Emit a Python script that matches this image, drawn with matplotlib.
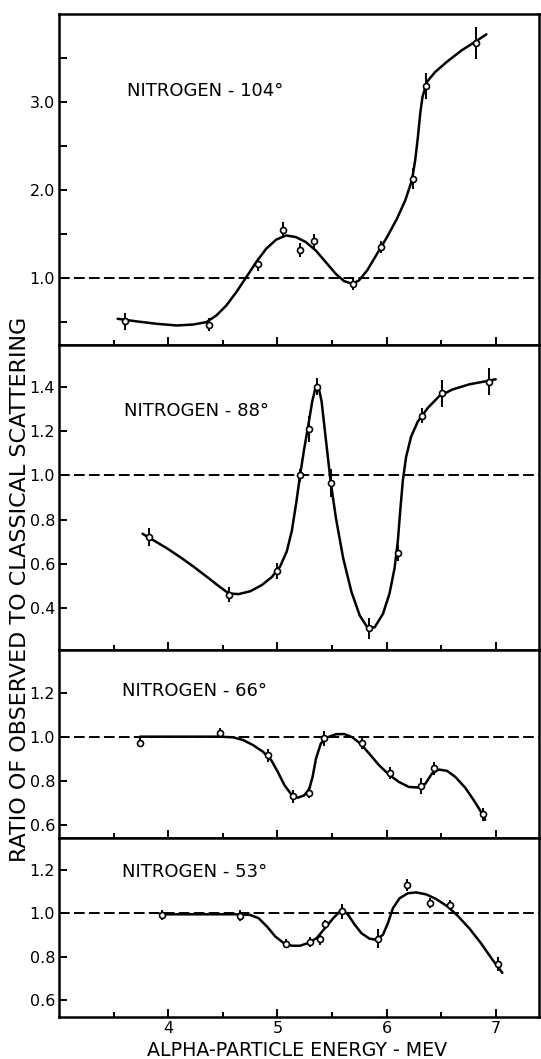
import matplotlib
matplotlib.use("Agg")
import matplotlib.pyplot as plt

# nitrogen 104 deg
e104 = [3.605, 4.37, 4.82, 5.051, 5.203, 5.339, 5.694, 5.95, 6.241, 6.36, 6.818]
r104 = [0.511, 0.473, 1.155, 1.549, 1.322, 1.42, 0.928, 1.352, 2.129, 3.186, 3.674]
err104 = [0.095, 0.076, 0.076, 0.09, 0.08, 0.076, 0.06, 0.07, 0.117, 0.146, 0.18]
fit_e104 = [3.535, 3.712, 3.894, 4.076, 4.228, 4.349, 4.44, 4.531, 4.623, 4.714,
            4.805, 4.896, 4.987, 5.078, 5.169, 5.26, 5.351, 5.442, 5.534, 5.61,
            5.685, 5.746, 5.822, 5.913, 6.004, 6.095, 6.171, 6.232, 6.262, 6.287,
            6.308, 6.329, 6.369, 6.445, 6.551, 6.688, 6.809, 6.915]
fit_r104 = [0.538, 0.508, 0.481, 0.462, 0.473, 0.5, 0.576, 0.689, 0.841, 1.011,
            1.182, 1.333, 1.436, 1.485, 1.466, 1.409, 1.314, 1.182, 1.049, 0.966,
            0.936, 0.973, 1.087, 1.277, 1.466, 1.674, 1.883, 2.11, 2.337, 2.602,
            2.867, 3.057, 3.227, 3.341, 3.455, 3.587, 3.682, 3.769]

# nitrogen 88 deg
e88 = [3.818, 4.559, 4.994, 5.207, 5.289, 5.359, 5.489, 5.839, 6.103, 6.322, 6.505, 6.939]
r88 = [0.722, 0.461, 0.568, 1.0, 1.209, 1.402, 0.965, 0.308, 0.649, 1.27, 1.371, 1.424]
err88 = [0.04, 0.034, 0.036, 0.03, 0.06, 0.038, 0.063, 0.048, 0.035, 0.034, 0.06, 0.061]
fit_e88 = [3.763, 3.869, 3.991, 4.112, 4.234, 4.356, 4.462, 4.553, 4.644, 4.751,
           4.857, 4.948, 5.024, 5.085, 5.131, 5.17, 5.207, 5.243, 5.283, 5.319,
           5.35, 5.374, 5.404, 5.444, 5.486, 5.535, 5.602, 5.678, 5.754, 5.83,
           5.891, 5.967, 6.027, 6.073, 6.103, 6.125, 6.149, 6.179, 6.225, 6.286,
           6.377, 6.483, 6.605, 6.757, 6.909, 7.0]
fit_r88 = [0.736, 0.705, 0.669, 0.629, 0.586, 0.54, 0.499, 0.466, 0.463, 0.476,
           0.504, 0.54, 0.588, 0.656, 0.748, 0.87, 1.0, 1.115, 1.229, 1.336,
           1.4, 1.405, 1.336, 1.16, 0.977, 0.809, 0.626, 0.473, 0.366, 0.308,
           0.313, 0.374, 0.466, 0.58, 0.702, 0.84, 0.977, 1.084, 1.176, 1.244,
           1.305, 1.359, 1.389, 1.412, 1.426, 1.435]

# nitrogen 66 deg
e66 = [3.739, 4.474, 4.912, 5.146, 5.286, 5.422, 5.772, 6.03, 6.319, 6.435, 6.881]
r66 = [0.973, 1.015, 0.916, 0.729, 0.746, 0.992, 0.97, 0.836, 0.777, 0.856, 0.647]
err66 = [0.02, 0.023, 0.03, 0.029, 0.024, 0.033, 0.027, 0.027, 0.036, 0.03, 0.028]
fit_e66 = [3.74, 4.471, 4.593, 4.684, 4.775, 4.866, 4.942, 5.003, 5.064, 5.125,
           5.185, 5.246, 5.292, 5.322, 5.353, 5.398, 5.459, 5.535, 5.611, 5.687,
           5.763, 5.839, 5.93, 6.021, 6.112, 6.204, 6.295, 6.356, 6.416, 6.477,
           6.553, 6.629, 6.72, 6.796, 6.857, 6.903]
fit_r66 = [1.0, 1.0, 0.997, 0.985, 0.962, 0.932, 0.894, 0.84, 0.78, 0.739,
           0.723, 0.734, 0.764, 0.818, 0.901, 0.97, 0.997, 1.011, 1.012, 0.997,
           0.967, 0.924, 0.871, 0.828, 0.795, 0.772, 0.769, 0.787, 0.833, 0.851,
           0.845, 0.818, 0.769, 0.714, 0.666, 0.623]

# nitrogen 53 deg
e53 = [3.945, 4.653, 5.079, 5.298, 5.389, 5.435, 5.587, 5.921, 6.185, 6.398, 6.581, 7.021]
r53 = [0.992, 0.989, 0.86, 0.867, 0.882, 0.95, 1.008, 0.882, 1.13, 1.049, 1.038, 0.766]
err53 = [0.023, 0.027, 0.02, 0.024, 0.027, 0.02, 0.036, 0.043, 0.029, 0.023, 0.023, 0.032]
fit_e53 = [3.945, 4.653, 4.751, 4.827, 4.903, 4.979, 5.055, 5.131, 5.207, 5.283,
           5.359, 5.435, 5.511, 5.572, 5.608, 5.648, 5.708, 5.769, 5.845, 5.906,
           5.967, 6.012, 6.058, 6.119, 6.195, 6.271, 6.362, 6.453, 6.559, 6.65,
           6.757, 6.863, 6.97, 7.061]
fit_r53 = [0.995, 0.995, 0.992, 0.977, 0.939, 0.893, 0.863, 0.85, 0.85, 0.863,
           0.885, 0.931, 0.977, 1.008, 1.011, 0.992, 0.947, 0.908, 0.882, 0.878,
           0.901, 0.954, 1.023, 1.069, 1.092, 1.096, 1.087, 1.066, 1.031, 0.989,
           0.931, 0.863, 0.786, 0.725]

titles = ["NITROGEN - 104°", "NITROGEN - 88°", "NITROGEN - 66°", "NITROGEN - 53°"]
yticks = [[1.0, 2.0, 3.0],
          [0.4, 0.6, 0.8, 1.0, 1.2, 1.4],
          [0.6, 0.8, 1.0, 1.2],
          [0.6, 0.8, 1.0, 1.2]]
xticks = [4, 5, 6, 7]

series = [(e104, r104, err104, fit_e104, fit_r104),
          (e88, r88, err88, fit_e88, fit_r88),
          (e66, r66, err66, fit_e66, fit_r66),
          (e53, r53, err53, fit_e53, fit_r53)]

# layout in figure fractions: bottom, height
rects = [(0.6742, 0.3126), (0.3862, 0.2880), (0.2084, 0.1778), (0.0400, 0.1685)]
ylims = [(0.24, 4.0), (0.21, 1.59), (0.539, 1.393), (0.523, 1.346)]
label_pos = [(3.62, 3.12), (3.59, 1.293), (3.575, 1.205), (3.575, 1.19)]

plt.rcParams['font.family'] = 'DejaVu Sans'
fig = plt.figure(figsize=(5.41, 10.59), dpi=100)

for i, (e, r, err, fe, fr) in enumerate(series):
    bottom, height = rects[i]
    ax = fig.add_axes([0.1096, bottom, 0.8873, height])
    ax.set_xlim(3.0, 7.4)
    ax.set_ylim(*ylims[i])
    ax.axhline(1.0, color='black', lw=1.4, dashes=(5.5, 2.2), zorder=1)
    ax.plot(fe, fr, color='black', lw=1.8, zorder=2,
            solid_joinstyle='round', solid_capstyle='round')
    ax.errorbar(e, r, yerr=err, fmt='o', ms=4.3, mfc='white', mec='black',
                mew=1.2, ecolor='black', elinewidth=1.4, capsize=0, zorder=3)
    ax.text(label_pos[i][0], label_pos[i][1], titles[i], fontsize=13,
            va='center', ha='left')

    ax.set_yticks(yticks[i])
    ax.set_yticklabels(["%.1f" % t for t in yticks[i]])
    if i == 0:
        ax.set_yticks([0.5, 1.5, 2.5, 3.5], minor=True)
    ax.set_xticks(xticks)
    ax.set_xticks([3.5, 4.5, 5.5, 6.5], minor=True)
    if i == 3:
        ax.set_xticklabels([str(t) for t in xticks])
    else:
        ax.set_xticklabels([])
    ax.tick_params(axis='both', which='both', direction='in', labelsize=11.5,
                   pad=3, width=1.4)
    ax.tick_params(axis='x', which='major', length=6)
    ax.tick_params(axis='x', which='minor', length=3.5)
    ax.tick_params(axis='y', which='both', length=5.5)
    for s in ax.spines.values():
        s.set_linewidth(1.8)

fig.text(0.037, 0.443, "RATIO OF OBSERVED TO CLASSICAL SCATTERING", rotation=90,
         fontsize=16, ha='center', va='center')
fig.text(0.549, 0.008, "ALPHA-PARTICLE ENERGY - MEV", fontsize=13.7,
         ha='center', va='center')

fig.savefig("out.png", dpi=100)
